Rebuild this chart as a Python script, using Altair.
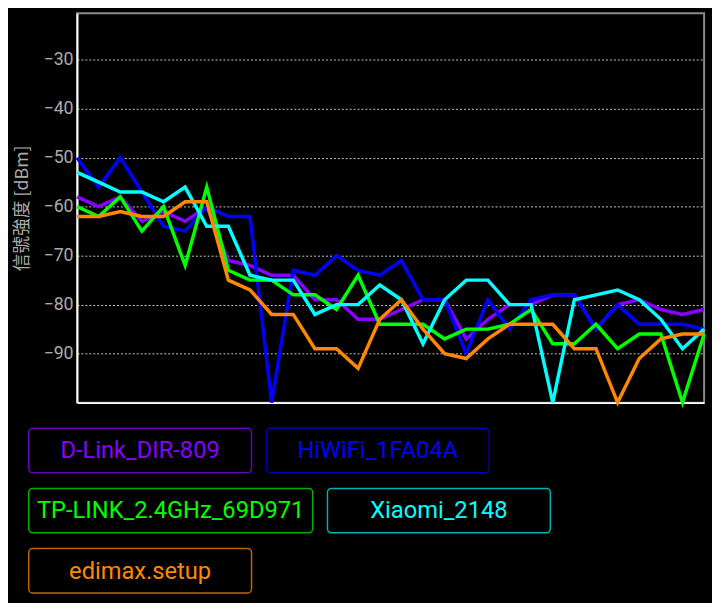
import altair as alt
import pandas as pd

# ---- data ----
networks = ["D-Link_DIR-809", "HiWiFi_1FA04A", "TP-LINK_2.4GHz_69D971", "Xiaomi_2148", "edimax.setup"]
line_colors = ["#8800ff", "#0000ff", "#00ff00", "#00ffff", "#ff8800"]
box_colors = ["#6a00c0", "#0000b0", "#00b000", "#00b0b0", "#c06400"]

scan = list(range(30))
dlink = [-58, -60, -58, -63, -61, -63, -60, -71, -72, -74, -74, -79, -79, -83, -83,
         -81, -79, -79, -87, -83, -80, -80, -78, -78, -85, -80, -79, -81, -82, -81]
hiwifi = [-50, -56, -50, -57, -64, -65, -60, -62, -62, -100, -73, -74, -70, -73, -74,
          -71, -79, -79, -90, -79, -85, -79, -78, -78, -85, -80, -84, -84, -84, -85]
tplink = [-60, -62, -58, -65, -60, -72, -56, -73, -75, -75, -78, -78, -81, -74, -84,
          -84, -84, -87, -85, -85, -84, -81, -88, -88, -84, -89, -86, -86, -100, -86]
xiaomi = [-53, -55, -57, -57, -59, -56, -64, -64, -74, -75, -75, -82, -80, -80, -76,
          -79, -88, -79, -75, -75, -80, -80, -100, -79, -78, -77, -79, -83, -89, -85]
edimax = [-62, -62, -61, -62, -62, -59, -59, -75, -77, -82, -82, -89, -89, -93, -83,
          -79, -85, -90, -91, -87, -84, -84, -84, -89, -89, -100, -91, -87, -86, -86]
y_ticks = [-90, -80, -70, -60, -50, -40, -30]

series = [dlink, hiwifi, tplink, xiaomi, edimax]
rows = []
for name, vals in zip(networks, series):
    for s, v in zip(scan, vals):
        rows.append({"network": name, "scan": s, "dbm": v})
df = pd.DataFrame(rows)

# ---- legend layout (button-like boxes) ----
legend_rows = [[0, 1], [2, 3], [4]]
box_w = {0: 226, 1: 226, 2: 288, 3: 226, 4: 226}
left0, gap_x, top0, box_h, gap_y = 27, 15, 428, 45, 16
leg_rows = []
for r, items in enumerate(legend_rows):
    x = left0
    for i in items:
        y0 = top0 + r * (box_h + gap_y)
        leg_rows.append({"network": networks[i], "x0": x, "x1": x + box_w[i],
                         "xc": x + box_w[i] / 2, "y0": y0, "y1": y0 + box_h,
                         "yc": y0 + box_h / 2 + 1,
                         "line_col": line_colors[i], "box_col": box_colors[i]})
        x += box_w[i] + gap_x
leg_df = pd.DataFrame(leg_rows)

main = alt.Chart(df).mark_line(strokeWidth=3.5).encode(
    x=alt.X("scan:Q", scale=alt.Scale(domain=[0, 29], nice=False, zero=False),
            axis=alt.Axis(labels=False, ticks=False, grid=False, title=None,
                          domainColor="#ffffff", domainWidth=2)),
    y=alt.Y("dbm:Q", scale=alt.Scale(domain=[-100, -20.5], nice=False, zero=False),
            axis=alt.Axis(values=y_ticks, title="信號強度 [dBm]", ticks=False,
                          labelColor="#aaaaaa", labelFontSize=18, labelFont="Roboto",
                          labelPadding=4, titleColor="#aaaaaa", titleFontSize=18,
                          titleFont="Noto Sans CJK TC", titleFontWeight="normal",
                          titlePadding=12, domainColor="#ffffff", domainWidth=2,
                          grid=True, gridColor="#c8c8c8", gridDash=[2, 2], gridWidth=1)),
    color=alt.Color("network:N", scale=alt.Scale(domain=networks, range=line_colors), legend=None),
    detail="network:N",
).properties(width=636, height=395, view=alt.ViewBackground(stroke="#8a8a8a", strokeWidth=2))

xs = alt.Scale(domain=[76, 712], nice=False, zero=False)
ys = alt.Scale(domain=[420, 600], nice=False, zero=False, reverse=True)

boxes = alt.Chart(leg_df).mark_rect(cornerRadius=4, fill="#000000", strokeWidth=1.5).encode(
    x=alt.X("x0:Q", scale=xs, axis=None), x2="x1:Q",
    y=alt.Y("y0:Q", scale=ys, axis=None), y2="y1:Q",
    stroke=alt.Stroke("box_col:N", scale=None),
)
labels = alt.Chart(leg_df).mark_text(fontSize=24, font="Roboto", baseline="middle", align="center").encode(
    x=alt.X("xc:Q", scale=xs, axis=None),
    y=alt.Y("yc:Q", scale=ys, axis=None),
    text="network:N",
    color=alt.Color("line_col:N", scale=None),
)
legend = alt.layer(boxes, labels).properties(
    width=636, height=180, view=alt.ViewBackground(stroke="transparent"))

chart = alt.vconcat(main, legend, spacing=9).resolve_scale(
    x="independent", y="independent", color="independent"
).properties(background="#000000", padding={"left": 4, "top": 0, "right": 0, "bottom": 0})

chart.save("out.html", embed_options={"renderer": "svg", "actions": False})
